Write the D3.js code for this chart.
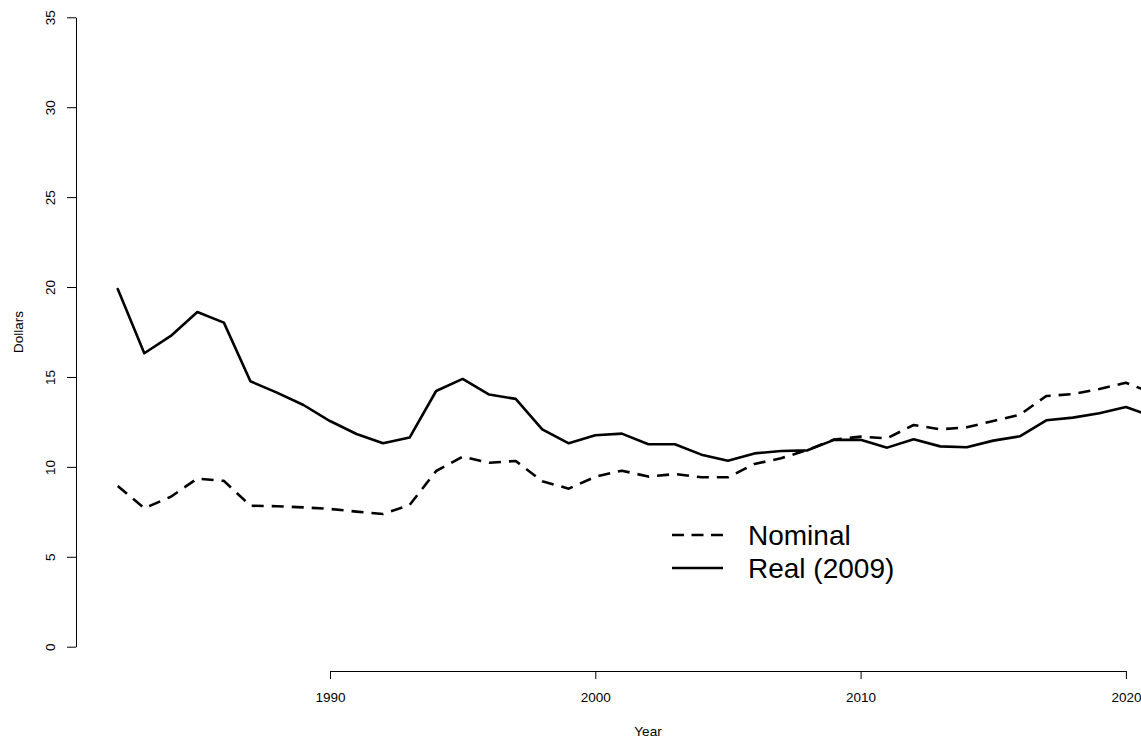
<!DOCTYPE html>
<html>
<head>
<meta charset="utf-8">
<script src="https://cdn.jsdelivr.net/npm/d3@7"></script>
<style>
  html, body { margin: 0; padding: 0; background: #fff; overflow: hidden; }
  svg { display: block; font-family: Arial, "Liberation Sans", sans-serif; }
</style>
</head>
<body>
<svg id="chart" width="1141" height="741"></svg>
<script>
const years = [1982,1983,1984,1985,1986,1987,1988,1989,1990,1991,1992,1993,1994,1995,1996,1997,1998,1999,2000,2001,2002,2003,2004,2005,2006,2007,2008,2009,2010,2011,2012,2013,2014,2015,2016,2017,2018,2019,2020,2021];
const nominal = [8.94,7.70,8.34,9.35,9.22,7.84,7.81,7.75,7.66,7.51,7.38,7.88,9.77,10.57,10.23,10.33,9.20,8.79,9.45,9.79,9.46,9.60,9.42,9.42,10.16,10.48,10.94,11.52,11.68,11.59,12.33,12.09,12.20,12.55,12.90,13.94,14.05,14.33,14.68,14.10];
const real = [19.89,16.32,17.28,18.61,18.02,14.76,14.13,13.44,12.55,11.83,11.31,11.63,14.22,14.89,14.02,13.78,12.09,11.31,11.76,11.85,11.26,11.26,10.68,10.34,10.75,10.88,10.92,11.50,11.51,11.07,11.53,11.14,11.09,11.46,11.70,12.59,12.74,12.98,13.33,12.80];
const xTicks = [1990,2000,2010,2020];
const yTicks = [0,5,10,15,20,25,30,35];
const seriesNames = ["Nominal","Real (2009)"];
const axisTitles = {x: "Year", y: "Dollars"};

const svg = d3.select("#chart");
const x = d3.scaleLinear().domain([1990, 2020]).range([330, 1125.9]);
const y = d3.scaleLinear().domain([0, 35]).range([646.7, 17.3]);

// Y axis
const yAxis = svg.append("g").attr("transform", "translate(76,0)")
  .call(d3.axisLeft(y).tickValues(yTicks).tickSize(9).tickSizeOuter(0).tickFormat(d3.format("d")));
yAxis.select(".domain").attr("stroke", "#000");
yAxis.selectAll(".tick line").attr("stroke", "#000");
yAxis.selectAll(".tick text")
  .attr("x", 0).attr("y", 0).attr("dy", null)
  .attr("text-anchor", "middle")
  .attr("transform", "translate(-21,0) rotate(-90)")
  .attr("font-size", 13.5).attr("fill", "#000")
  .attr("font-family", "Arial, 'Liberation Sans', sans-serif");

// X axis
const xAxis = svg.append("g").attr("transform", "translate(0,671)")
  .call(d3.axisBottom(x).tickValues(xTicks).tickSize(8).tickSizeOuter(0).tickFormat(d3.format("d")));
xAxis.select(".domain").attr("stroke", "#000");
xAxis.selectAll(".tick line").attr("stroke", "#000");
xAxis.selectAll(".tick text")
  .attr("y", 31).attr("dy", null)
  .attr("font-size", 13.5).attr("fill", "#000")
  .attr("font-family", "Arial, 'Liberation Sans', sans-serif");

// Axis titles
svg.append("text").attr("x", 648).attr("y", 736).attr("text-anchor", "middle")
  .attr("font-size", 13.5).text(axisTitles.x);
svg.append("text").attr("transform", "translate(23,332) rotate(-90)").attr("text-anchor", "middle")
  .attr("font-size", 13.5).text(axisTitles.y);

// Lines
const line = (vals) => d3.line().x((d, i) => x(years[i])).y(d => y(d))(vals);
svg.append("path").attr("d", line(nominal)).attr("fill", "none").attr("stroke", "#000")
  .attr("stroke-width", 2.6).attr("stroke-dasharray", "12,8").attr("stroke-linejoin", "round");
svg.append("path").attr("d", line(real)).attr("fill", "none").attr("stroke", "#000")
  .attr("stroke-width", 2.6).attr("stroke-linejoin", "round").attr("stroke-linecap", "round");

// Legend
const legend = svg.append("g");
const legY = [535, 568];
legend.append("line").attr("x1", 672).attr("x2", 723).attr("y1", legY[0]).attr("y2", legY[0])
  .attr("stroke", "#000").attr("stroke-width", 2.6).attr("stroke-dasharray", "12,7.5");
legend.append("line").attr("x1", 672).attr("x2", 723).attr("y1", legY[1]).attr("y2", legY[1])
  .attr("stroke", "#000").attr("stroke-width", 2.6);
seriesNames.forEach((n, i) => {
  legend.append("text").attr("x", 748).attr("y", legY[i] + 10).attr("font-size", 28).text(n);
});
</script>
</body>
</html>
